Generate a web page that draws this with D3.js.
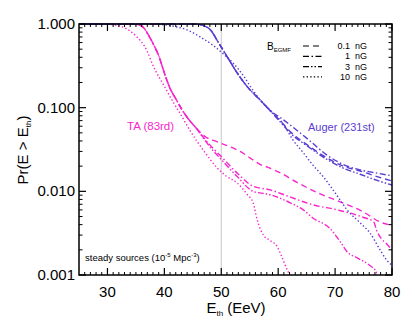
<!DOCTYPE html>
<html><head><meta charset="utf-8">
<script src="https://cdn.jsdelivr.net/npm/d3@7"></script>
<style>
body{margin:0;background:#fff;}
svg text{font-family:"Liberation Sans",Arial,Helvetica,sans-serif;}
</style></head>
<body><svg id="c" width="415" height="326"></svg>
<script>
// ---- data ----
const xTicks = [30,40,50,60,70,80];
const yTicks = [0.001,0.01,0.1,1];
const yTickLabels = ["0.001","0.010","0.100","1.000"];
const fieldLabels = ["0.1  nG","1  nG","3  nG","10  nG"];

// TA (magenta) - shared part before the curves split
const taCommon = [[25,1],[33,1],[35.5,0.98],[36.5,0.88],[37.2,0.74],[38.2,0.55],[39,0.42],[40,0.26],[41,0.17],[42,0.128],[43,0.097],[44.6,0.068],[45.5,0.058]];
const ta01Tail = [[46.8,0.047],[49.3,0.039],[51.6,0.034],[53.3,0.030],[55.1,0.025],[56.8,0.021],[58.1,0.0195],[60.4,0.0166],[63.3,0.0128],[67.4,0.0093],[70.9,0.0075],[74.9,0.0057],[77.9,0.0043],[80,0.0039]];
const ta1Tail = [[47,0.043],[48.5,0.033],[50,0.026],[52.8,0.0165],[55.6,0.0115],[58.6,0.0104],[61.6,0.0088],[66.1,0.0069],[70.4,0.006],[74.9,0.0049],[76.8,0.0043],[77.3,0.0034],[78,0.0028],[79.2,0.0023],[80,0.0020]];
const ta3Tail = [[47,0.042],[48.5,0.031],[50,0.024],[52.8,0.015],[55.6,0.0100],[58.6,0.0091],[62.1,0.0073],[64.4,0.006],[66.1,0.0048],[69.1,0.0036],[70.9,0.0025],[72.1,0.0019],[73.9,0.0016],[76.1,0.0013],[77.2,0.0011],[77.6,0.0008]];
const ta10 = [[25,1],[30,0.995],[31,0.98],[33,0.9],[35,0.72],[37,0.47],[38,0.32],[40,0.18],[41.6,0.115],[43,0.08],[44.6,0.052],[47,0.03],[49.3,0.019],[51,0.015],[52.8,0.0126],[54.6,0.0091],[55.6,0.0073],[56.3,0.0046],[57.4,0.003],[58.5,0.0026],[59.8,0.0022],[60.4,0.0018],[61.6,0.00115],[62.2,0.00095]];

// Auger (blue) - shared part before the curves split
const augCommon = [[25,1],[44,1],[46,0.99],[47,0.95],[48.1,0.85],[49.5,0.6],[51.1,0.40],[52.8,0.26],[54.6,0.177],[56.8,0.124],[58.6,0.092]];
const aug01Tail = [[60.5,0.068],[62.1,0.052],[65.6,0.034],[68.6,0.025],[71.4,0.020],[74.4,0.0175],[77.4,0.015],[80,0.0133]];
const aug1Tail = [[60.5,0.075],[62.1,0.062],[65.6,0.040],[68.6,0.027],[71.4,0.021],[74.4,0.018],[77.4,0.0165],[80,0.0153]];
const aug3Tail = [[60.5,0.066],[62.1,0.050],[65.6,0.033],[68.6,0.024],[71.4,0.019],[74.4,0.016],[77.4,0.0135],[80,0.0119]];
const aug10 = [[25,1],[37,1],[39,0.99],[40.5,0.97],[42,0.93],[44,0.85],[46.3,0.70],[48.5,0.56],[50.5,0.43],[52.1,0.34],[53.9,0.24],[55.1,0.18],[57,0.12],[59,0.088],[60.9,0.064],[62.5,0.042],[64.4,0.029],[66,0.021],[67.9,0.015],[70.4,0.0088],[72.1,0.006],[74.4,0.0042],[76.1,0.0032],[77.9,0.002],[79.1,0.0015],[80,0.0013]];

// ---- drawing ----
const TA = "#f726cc", AUG = "#5a3cd4";
const dashes = ["6,4","6,2.5,1.5,2.5","6,2,1.5,2,1.5,2","1.4,2.2"];
const svg = d3.select("#c");
const X0=79, X1=392, Y0=24, Y1=275;
const x = d3.scaleLinear().domain([25,80]).range([X0,X1]);
const y = d3.scaleLog().domain([0.001,1]).range([Y1,Y0]);

svg.append("defs").append("clipPath").attr("id","clip")
  .append("rect").attr("x",X0).attr("y",Y0-1).attr("width",X1-X0).attr("height",Y1-Y0+1);

// reference line at 50 EeV
svg.append("line").attr("x1",x(50)).attr("x2",x(50)).attr("y1",Y0).attr("y2",Y1)
  .attr("stroke","#c8c8c8").attr("stroke-width",1);

const line = d3.line().x(d=>x(d[0])).y(d=>y(d[1])).curve(d3.curveMonotoneX);
const series = [
  {d: taCommon.concat(ta01Tail), c: TA, k:0},
  {d: taCommon.concat(ta1Tail), c: TA, k:1},
  {d: taCommon.concat(ta3Tail), c: TA, k:2},
  {d: ta10, c: TA, k:3},
  {d: augCommon.concat(aug01Tail), c: AUG, k:0},
  {d: augCommon.concat(aug1Tail), c: AUG, k:1},
  {d: augCommon.concat(aug3Tail), c: AUG, k:2},
  {d: aug10, c: AUG, k:3}
];
const g = svg.append("g").attr("clip-path","url(#clip)");
g.selectAll("path").data(series).join("path")
  .attr("d", s=>line(s.d)).attr("fill","none").attr("stroke", s=>s.c)
  .attr("stroke-width",1.4).attr("stroke-dasharray", s=>dashes[s.k]);

// axes with inward ticks
const minorX = d3.range(26,81,1).filter(v=>v%10!==0);
const minorY = [];
[0.001,0.01,0.1].forEach(b=>{for(let i=2;i<=9;i++) minorY.push(b*i);});

function xAxis(sel, pos, dir){
  sel.selectAll(null).data(xTicks).join("line").attr("x1",d=>x(d)).attr("x2",d=>x(d))
    .attr("y1",pos).attr("y2",pos+dir*7).attr("stroke","#000").attr("stroke-width",1.2);
  sel.selectAll(null).data(minorX).join("line").attr("x1",d=>x(d)).attr("x2",d=>x(d))
    .attr("y1",pos).attr("y2",pos+dir*3).attr("stroke","#000").attr("stroke-width",1);
}
function yAxis(sel, pos, dir){
  sel.selectAll(null).data(yTicks).join("line").attr("y1",d=>y(d)).attr("y2",d=>y(d))
    .attr("x1",pos).attr("x2",pos+dir*7).attr("stroke","#000").attr("stroke-width",1.2);
  sel.selectAll(null).data(minorY).join("line").attr("y1",d=>y(d)).attr("y2",d=>y(d))
    .attr("x1",pos).attr("x2",pos+dir*3.5).attr("stroke","#000").attr("stroke-width",1);
}
const ax = svg.append("g");
xAxis(ax.append("g"), Y1, -1);
xAxis(ax.append("g"), Y0, 1);
yAxis(ax.append("g"), X0, 1);
yAxis(ax.append("g"), X1, -1);
svg.append("rect").attr("x",X0).attr("y",Y0).attr("width",X1-X0).attr("height",Y1-Y0)
  .attr("fill","none").attr("stroke","#000").attr("stroke-width",1.5);

// tick labels
svg.selectAll(".xl").data(xTicks).join("text").attr("x",d=>x(d)).attr("y",297)
  .attr("text-anchor","middle").attr("font-size",15).text(d=>d);
svg.selectAll(".yl").data(yTicks).join("text").attr("x",X0-4).attr("y",d=>y(d)+5)
  .attr("text-anchor","end").attr("font-size",15).text((d,i)=>yTickLabels[i]);

// axis titles
const xt = svg.append("text").attr("x",236).attr("y",313).attr("text-anchor","middle").attr("font-size",15);
xt.append("tspan").text("E");
xt.append("tspan").attr("font-size",8).attr("dy",3).text("th");
xt.append("tspan").attr("dy",-3).text(" (EeV)");
const yt = svg.append("text").attr("transform","translate(28,150) rotate(-90)").attr("text-anchor","middle").attr("font-size",15);
yt.append("tspan").text("Pr(E > E");
yt.append("tspan").attr("font-size",8).attr("dy",3).text("th");
yt.append("tspan").attr("dy",-3).text(")");

// annotations
svg.append("text").attr("x",127).attr("y",130).attr("font-size",11.5).attr("fill",TA).text("TA (83rd)");
svg.append("text").attr("x",308).attr("y",131).attr("font-size",11).attr("fill",AUG).text("Auger (231st)");
const st = svg.append("text").attr("x",85).attr("y",261).attr("font-size",9.5);
st.append("tspan").text("steady sources (10");
st.append("tspan").attr("font-size",6).attr("dy",-4).text("-5");
st.append("tspan").attr("dy",4).text(" Mpc");
st.append("tspan").attr("font-size",6).attr("dy",-4).text("-3");
st.append("tspan").attr("dy",4).text(")");

// legend
const lb = svg.append("text").attr("x",267).attr("y",50).attr("font-size",10);
lb.append("tspan").text("B");
lb.append("tspan").attr("font-size",6).attr("dy",2).text("EGMF");
const legTY = [49,59.3,69.6,79.9];
svg.selectAll(".lgl").data(dashes).join("line").attr("x1",303).attr("x2",322)
  .attr("y1",(d,i)=>legTY[i]-3).attr("y2",(d,i)=>legTY[i]-3)
  .attr("stroke","#000").attr("stroke-width",1.2).attr("stroke-dasharray",d=>d);
svg.selectAll(".lgt").data(fieldLabels).join("text").attr("x",367).attr("y",(d,i)=>legTY[i])
  .attr("text-anchor","end").attr("font-size",9).attr("xml:space","preserve").style("white-space","pre").text(d=>d);
</script></body></html>
